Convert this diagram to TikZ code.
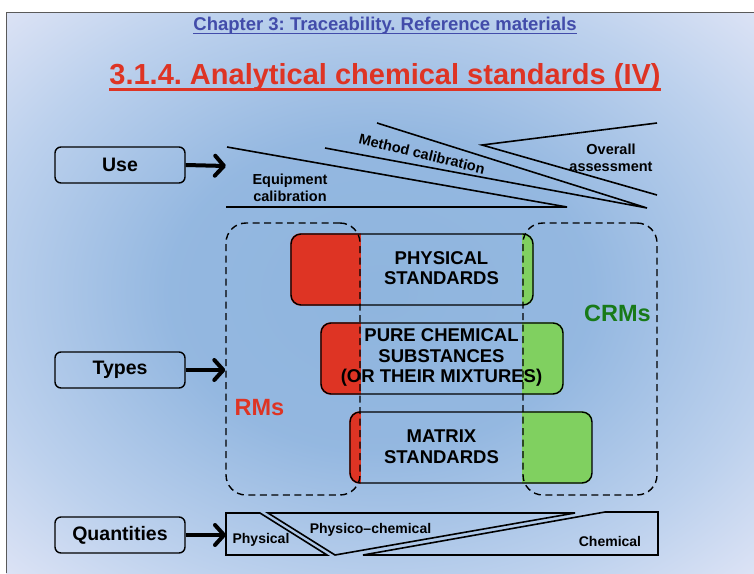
\documentclass[tikz,border=0pt]{standalone}
\usepackage{fontspec}
\setmainfont{Liberation Sans}
\usetikzlibrary{arrows.meta}
\frenchspacing

\definecolor{rmred}{RGB}{222,52,36}
\definecolor{crmgreen}{RGB}{128,208,96}
\definecolor{crmtext}{RGB}{24,122,24}
\definecolor{chapblue}{RGB}{66,76,170}
\definecolor{framegray}{RGB}{90,90,90}

\pgfdeclareradialshading{slidebg}{\pgfpoint{0bp}{0bp}}{%
  rgb(0bp)=(0.56,0.71,0.87); rgb(14bp)=(0.58,0.72,0.88);
  rgb(27bp)=(0.74,0.82,0.93); rgb(38bp)=(0.90,0.91,0.97);
  rgb(50bp)=(0.96,0.91,0.97)}
\pgfdeclarelayer{back}
\pgfdeclarelayer{fills}
\pgfsetlayers{back,fills,main}

\tikzset{
  lbox/.style={draw, rounded corners=6pt, line width=1.4pt, minimum width=130pt,
    minimum height=36pt, font=\bfseries\fontsize{19.5}{22}\selectfont},
  stdbox/.style={draw, rounded corners=10pt, line width=1.4pt,
    minimum width=242pt, minimum height=71pt},
  stdtext/.style={align=center, font=\bfseries\fontsize{18.5}{20.5}\selectfont},
  groupbox/.style={draw, dash pattern=on 7pt off 4.5pt, rounded corners=20pt,
    line width=1.4pt, minimum width=134pt, minimum height=272pt},
  small/.style={align=center, font=\bfseries\fontsize{14.5}{17}\selectfont},
  bigarrow/.style={line width=4pt, -{Straight Barb[length=9pt,width=20pt,round]}},
  wedge/.style={line width=1.6pt},
}

\begin{document}
\begin{tikzpicture}[x=1pt,y=-1pt]
	\useasboundingbox (0,0) rectangle (754,573);
	\begin{pgfonlayer}{back}
		\fill[white] (0,0) rectangle (754,573);
		\shade[shading=slidebg] (6,12) rectangle (754,573);
		\draw[framegray,line width=1pt] (6,573) -- (6,12) -- (754,12);
	\end{pgfonlayer}

	% headings
	\node[anchor=base, inner sep=0pt, text=chapblue, font=\bfseries\fontsize{18.5}{22}\selectfont] (chap) at (385,30.7) {Chapter 3: Traceability. Reference materials};
	\draw[chapblue,line width=1.8pt] ([yshift=-2.7pt]chap.base west) -- ([yshift=-2.7pt]chap.base east);
	\node[anchor=base, inner sep=0pt, text=rmred, font=\bfseries\fontsize{29}{34}\selectfont] (title) at (385,84) {3.1.4. Analytical chemical standards (IV)};
	\draw[rmred,line width=2.8pt] ([yshift=-5.5pt]title.base west) -- ([yshift=-5.5pt]title.base east);

	% left column
	\node[lbox] (use) at (120,165) {Use};
	\node[lbox] (types) at (120,370) {Types};
	\node[lbox] (quant) at (120,535) {Quantities};

	% use
	\coordinate (usetip) at (226,166);
	\draw[bigarrow] (use.east) -- (usetip);
	\draw[wedge] (227,147) -- (567,207) -- (226,207);
	\draw[wedge] (325,148) -- (647,208) -- (377,123);
	\draw[wedge] (657,123) -- (482,145) -- (657,195);
	\node[small] (equip) at (290,188) {Equipment\\calibration};
	\node[small, rotate=-13.5, inner sep=1pt] (method) at (422,154) {Method calibration};
	\node[small, inner sep=1pt] (overall) at (611,158) {Overall\\assessment};

	% types
	\node[stdbox] (phys) at (412,269.5) {};
	\node[stdbox] (pure) at (442,358.5) {};
	\node[stdbox] (matrix) at (471,447.5) {};
	\node[groupbox] (rms) at (293,359) {};
	\node[groupbox] (crms) at (590,359) {};
	\begin{pgfonlayer}{fills}
		\foreach \b in {phys,pure,matrix}{
			\begin{scope}
				\clip[rounded corners=10pt] (\b.south west) rectangle (\b.north east);
				\fill[rmred] (\b.south west) rectangle (rms.east |- \b.north);
				\fill[crmgreen] (crms.west |- \b.south) rectangle (\b.north east);
			\end{scope}
		}
	\end{pgfonlayer}
	\node[stdtext] (physlbl) at (441.5,268) {PHYSICAL\\STANDARDS};
	\node[stdtext] (purelbl) at (441.5,357.5) {PURE CHEMICAL\\SUBSTANCES\\(OR THEIR MIXTURES)};
	\node[stdtext] (matrixlbl) at (441.5,446.5) {MATRIX\\STANDARDS};
	\node[text=rmred, font=\bfseries\fontsize{23.5}{26}\selectfont] (rmlbl) at (259.5,408) {RMs};
	\node[text=crmtext, font=\bfseries\fontsize{23.5}{26}\selectfont] (crmlbl) at (617.5,313) {CRMs};
	\draw[bigarrow] (types.east) -- (types.east -| rms.west);

	% quantities
	\coordinate (strip) at (226,535);
	\draw[bigarrow] (quant.east) -- (strip);
	\draw[wedge] (226,513) -- (260,513) -- (327,555) -- (226,555) -- cycle;
	\draw[wedge] (268,513) -- (575,513) -- (335,555) -- cycle;
	\draw[wedge] (363,555) -- (605,512) -- (658,512) -- (658,555) -- cycle;
	\node[small, font=\bfseries\fontsize{14}{17}\selectfont] (physq) at (261,540) {Physical};
	\node[small, font=\bfseries\fontsize{14}{17}\selectfont] (physchem) at (370.5,530) {Physico--chemical};
	\node[small, font=\bfseries\fontsize{14}{17}\selectfont] (chemq) at (610,541) {Chemical};
\end{tikzpicture}
\end{document}
